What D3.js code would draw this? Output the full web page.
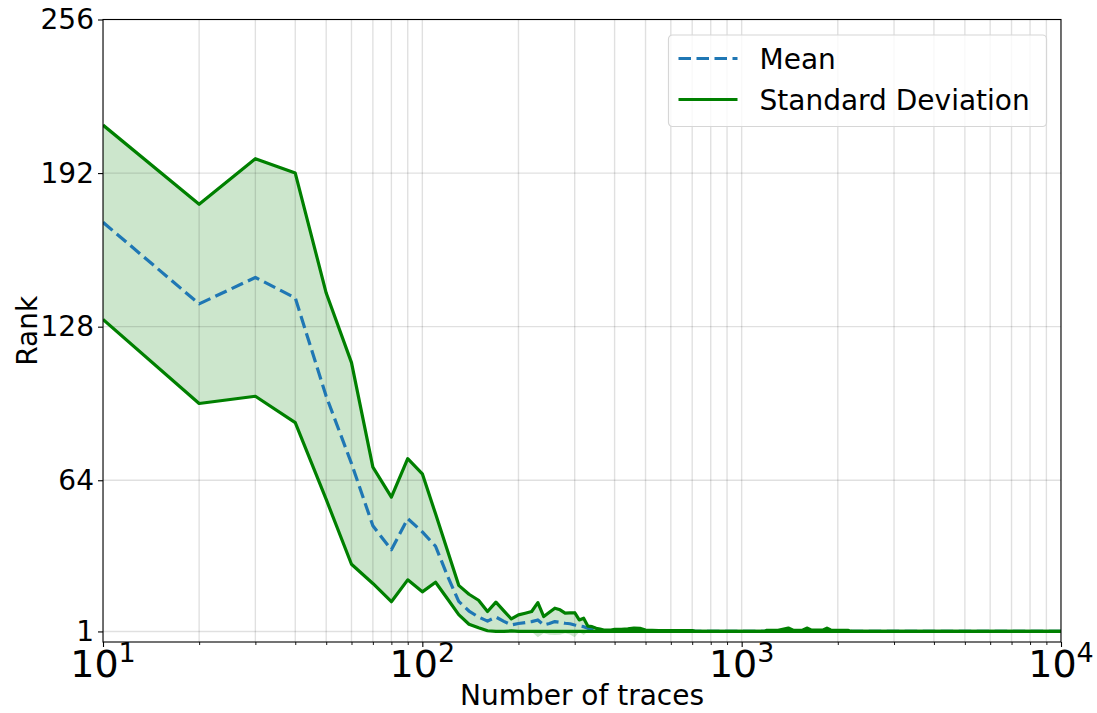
<!DOCTYPE html>
<html>
<head>
<meta charset="utf-8">
<script src="https://cdn.jsdelivr.net/npm/d3@7"></script>
<style>
body { margin: 0; background: #fff; }
text { font-family: "DejaVu Sans", sans-serif; fill: #000; }
</style>
</head>
<body>
<svg id="chart" width="1097" height="713"></svg>
<script>
// Number of traces (x)
var traces = [10, 20, 30, 40, 50, 60, 70, 80, 90, 100,
    110, 120, 130, 140, 150, 160, 170, 180, 190, 200,
    210, 220, 230, 240, 250, 260, 270, 280, 290, 300,
    310, 320, 330, 340, 350, 360, 370, 380, 390, 400,
    420, 440, 460, 480, 500, 550, 600, 650, 700, 720,
    800, 900, 1000, 1100, 1180, 1200, 1300, 1400, 1450, 1550,
    1600, 1650, 1800, 1850, 1900, 2000, 2150, 2200, 3000, 5000, 10000];

var meanRank = [171.5, 137.5, 148.5, 140, 99, 71, 45, 35, 48, 42.5,
    36.5, 24, 13.5, 9.5, 7, 5.3, 7, 5.2, 3.7, 4.3,
    4.7, 5.1, 5.8, 3.7, 4.3, 5.1, 4.8, 4.4, 4.2, 3.7,
    3.3, 3.0, 2.3, 2.0, 1.7, 1.5, 1.3, 1.3, 1.25, 1.3,
    1.4, 1.5, 1.7, 1.6, 1.2, 1.1, 1.1, 1.1, 1.1, 1.0,
    1, 1, 1, 1, 1, 1.2, 1.2, 1.4, 1.2, 1.2,
    1.4, 1.2, 1.2, 1.4, 1.2, 1.2, 1.2, 1, 1, 1, 1];

var stdUpper = [212, 179, 198, 192, 142, 113, 69.5, 57, 73, 66.7,
    50, 34.5, 20.2, 16.5, 14, 9.3, 13.2, 9.6, 6.2, 7.9,
    8.6, 9.3, 13, 7.2, 9, 10.7, 10, 8.6, 8.7, 8.8,
    5.8, 6.5, 3.2, 3.0, 2.3, 2.0, 1.6, 1.6, 1.6, 1.9,
    1.9, 2.1, 2.4, 2.3, 1.6, 1.4, 1.4, 1.4, 1.4, 1.0,
    1, 1, 1, 1, 1, 1.5, 1.5, 2.4, 1.5, 1.5,
    2.4, 1.6, 1.6, 2.4, 1.6, 1.5, 1.5, 1, 1, 1, 1];

var stdLower = [131, 96, 99, 88, 56, 29, 21, 13.4, 22.5, 17.5,
    21.5, 14.5, 8, 4, 2.5, 1.3, 0.8, 0.8, 1.2, 0.7,
    0.8, 0.9, -1.4, 0.2, -0.4, -0.5, -0.4, 0.2, -0.3, -1.4,
    0.8, -0.5, 1, 1, 1, 1, 1, 1, 1, 1,
    1, 1, 1, 1, 1, 1, 1, 1, 1, 1,
    1, 1, 1, 1, 1, 1, 1, 1, 1, 1,
    1, 1, 1, 1, 1, 1, 1, 1, 1, 1, 1];

var yTicks = [1, 64, 128, 192, 256];
var xMajor = [10, 100, 1000, 10000];
var xExp = ['1', '2', '3', '4'];
var seriesNames = ['Mean', 'Standard Deviation'];

var W = 1097, H = 713;
var plot = {x: 103, y: 19.5, w: 958, h: 622.5};

var svg = d3.select('#chart');

var xScale = d3.scaleLog().domain([10, 10000]).range([plot.x, plot.x + plot.w]);
var yScale = d3.scaleLinear().domain([-3.4, 256]).range([plot.y + plot.h, plot.y]);

var rows = traces.map(function(t, i) {
    return {x: t, mean: meanRank[i], hi: stdUpper[i], lo: stdLower[i]};
});

svg.append('clipPath').attr('id', 'plot-clip').
    append('rect').attr('x', plot.x).attr('y', plot.y).attr('width', plot.w).attr('height', plot.h);

var body = svg.append('g').attr('clip-path', 'url(#plot-clip)');

// std band
var area = d3.area().
    x(function(d) { return xScale(d.x); }).
    y0(function(d) { return yScale(d.lo); }).
    y1(function(d) { return yScale(d.hi); });
body.append('path').datum(rows).attr('d', area).
    style('fill', 'green').style('fill-opacity', 0.2).style('stroke', 'none');

// grid (minor + major on x)
var xGrid = [];
xMajor.forEach(function(m, i) {
    if (i < xMajor.length - 1) {
        for (var k = 1; k < 10; k++) xGrid.push(m * k);
    }
});
xGrid.push(10000);

body.append('g').selectAll('line').data(xGrid).enter().append('line').
    attr('x1', function(d) { return xScale(d); }).attr('x2', function(d) { return xScale(d); }).
    attr('y1', plot.y).attr('y2', plot.y + plot.h).
    style('stroke', '#000').style('stroke-opacity', 0.12).style('stroke-width', 1.4);

body.append('g').selectAll('line').data(yTicks).enter().append('line').
    attr('x1', plot.x).attr('x2', plot.x + plot.w).
    attr('y1', function(d) { return yScale(d); }).attr('y2', function(d) { return yScale(d); }).
    style('stroke', '#000').style('stroke-opacity', 0.12).style('stroke-width', 1.4);

// mean (dashed)
var meanLine = d3.line().
    x(function(d) { return xScale(d.x); }).
    y(function(d) { return yScale(d.mean); });
body.append('path').datum(rows).attr('d', meanLine).
    style('fill', 'none').style('stroke', '#1f77b4').style('stroke-width', 3.2).
    style('stroke-dasharray', '12.5,5.5').style('stroke-linejoin', 'round');

// std bounds, lower bound drawn from rank 1 up
var hiLine = d3.line().
    x(function(d) { return xScale(d.x); }).
    y(function(d) { return yScale(d.hi); });
var loLine = d3.line().
    x(function(d) { return xScale(d.x); }).
    y(function(d) { return yScale(Math.max(d.lo, 1)); });
[hiLine, loLine].forEach(function(gen) {
    body.append('path').datum(rows).attr('d', gen).
        style('fill', 'none').style('stroke', 'green').style('stroke-width', 3.2).
        style('stroke-linejoin', 'round');
});

// frame
svg.append('rect').attr('x', plot.x).attr('y', plot.y).attr('width', plot.w).attr('height', plot.h).
    style('fill', 'none').style('stroke', '#000').style('stroke-width', 1.1);

// y axis
var yAxis = d3.axisLeft(yScale).tickValues(yTicks).tickSize(5).tickPadding(4);
var gy = svg.append('g').attr('transform', 'translate(' + plot.x + ',0)').call(yAxis);
gy.select('.domain').remove();
gy.selectAll('line').style('stroke', '#000').style('stroke-width', 1.1);
gy.selectAll('text').style('font-size', '28px').style('font-family', '"DejaVu Sans", sans-serif');

// x axis: major + minor ticks
var xAxisMinor = d3.axisBottom(xScale).tickValues(xGrid.filter(function(d) { return xMajor.indexOf(d) < 0; })).
    tickSize(3).tickFormat('');
var gxm = svg.append('g').attr('transform', 'translate(0,' + (plot.y + plot.h) + ')').call(xAxisMinor);
gxm.select('.domain').remove();
gxm.selectAll('line').style('stroke', '#000').style('stroke-width', 0.9);

var xAxis = d3.axisBottom(xScale).tickValues(xMajor).tickSize(5).tickFormat('');
var gx = svg.append('g').attr('transform', 'translate(0,' + (plot.y + plot.h) + ')').call(xAxis);
gx.select('.domain').remove();
gx.selectAll('line').style('stroke', '#000').style('stroke-width', 1.1);

var xLabels = svg.append('g').selectAll('text').data(xMajor).enter().append('text').
    attr('x', function(d) { return xScale(d); }).attr('y', 677).
    attr('text-anchor', 'middle').style('font-size', '38px');
xLabels.append('tspan').text('10');
xLabels.append('tspan').attr('dy', -15).style('font-size', '27px').
    text(function(d, i) { return xExp[i]; });

// axis titles
svg.append('text').attr('x', plot.x + plot.w / 2).attr('y', 705).attr('text-anchor', 'middle').
    style('font-size', '28px').text('Number of traces');
svg.append('text').attr('transform', 'translate(37,' + (plot.y + plot.h / 2) + ') rotate(-90)').
    attr('text-anchor', 'middle').style('font-size', '28px').text('Rank');

// legend
var leg = svg.append('g').attr('transform', 'translate(668.5,35)');
leg.append('rect').attr('width', 378).attr('height', 91.5).attr('rx', 4).attr('ry', 4).
    style('fill', '#fff').style('fill-opacity', 0.8).style('stroke', '#d6d6d6').style('stroke-width', 1.2);
var legStyles = [
    {color: '#1f77b4', dash: '12.5,5.5'},
    {color: 'green', dash: null}
];
seriesNames.forEach(function(name, i) {
    var y = 23.5 + i * 41;
    leg.append('line').attr('x1', 10).attr('x2', 69).attr('y1', y).attr('y2', y).
        style('stroke', legStyles[i].color).style('stroke-width', 3.2).
        style('stroke-dasharray', legStyles[i].dash);
    leg.append('text').attr('x', 91).attr('y', y).attr('dy', '0.36em').
        style('font-size', '28px').text(name);
});
</script>
</body>
</html>
